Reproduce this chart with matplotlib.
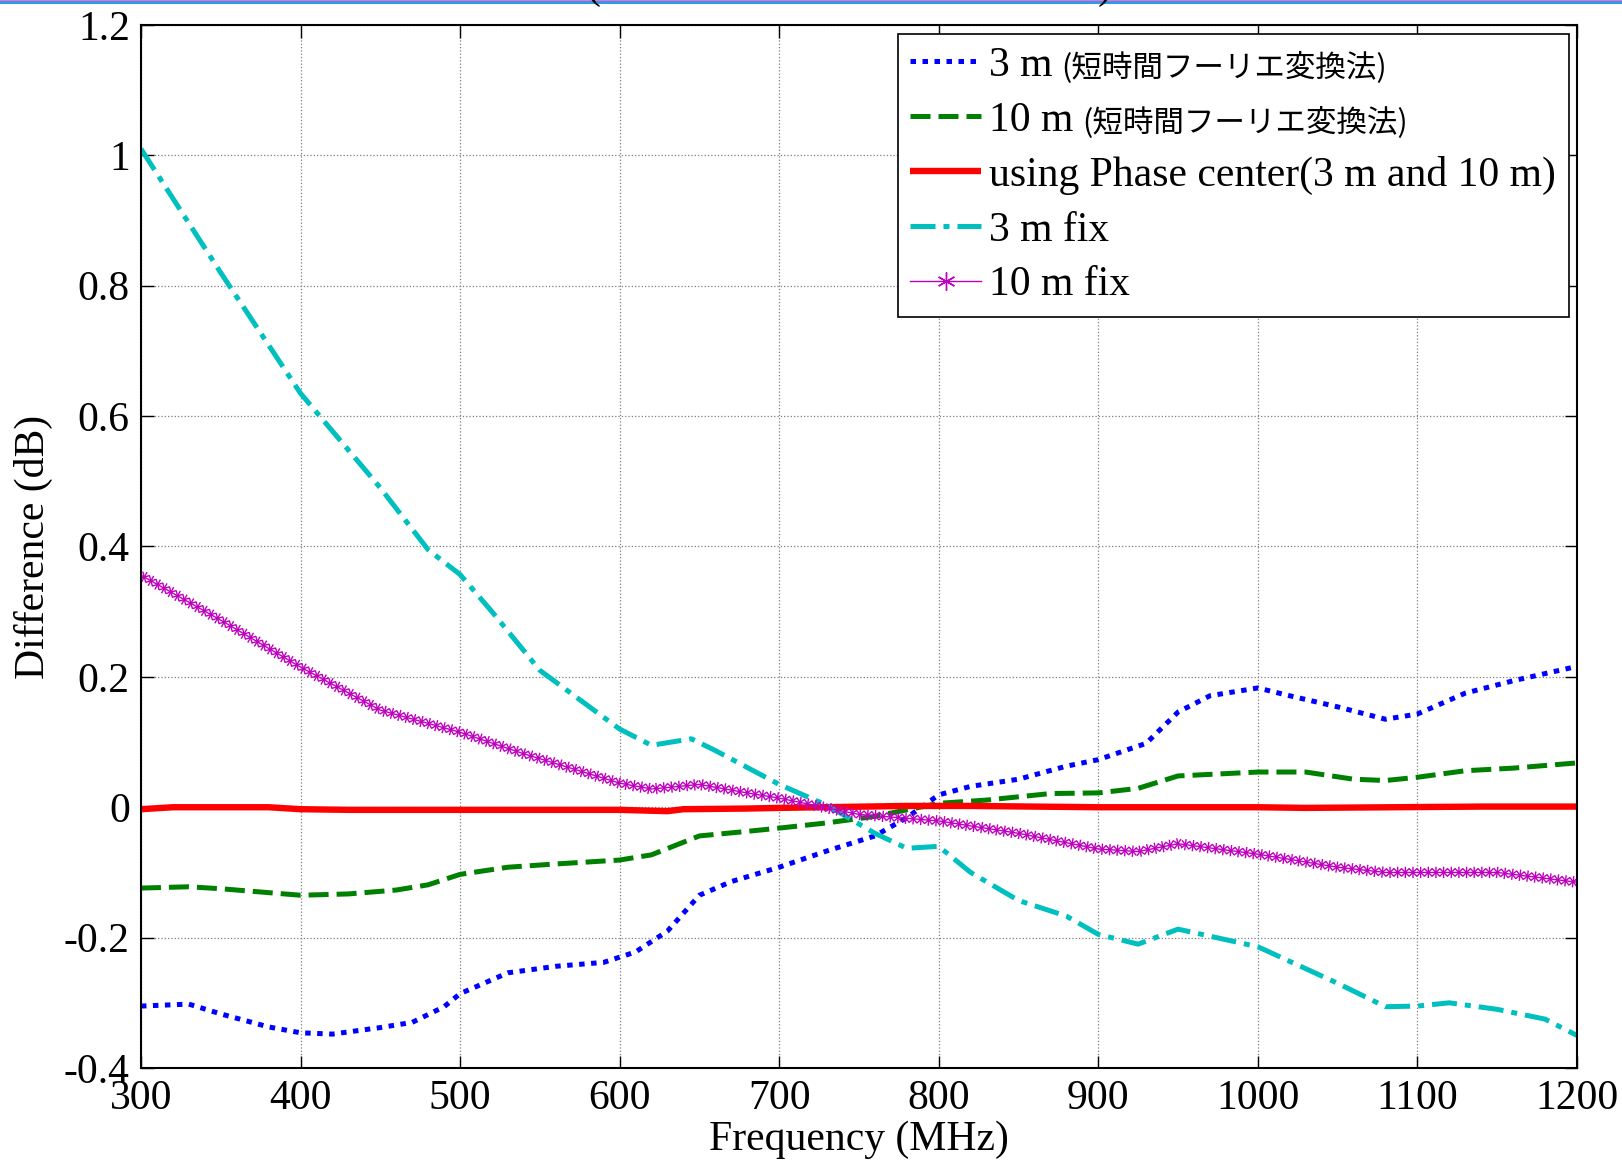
import matplotlib
matplotlib.use("Agg")
import matplotlib.pyplot as plt
import matplotlib.patheffects as pe
from matplotlib.lines import Line2D

plt.rcParams['font.family'] = ['Liberation Serif', 'Noto Sans CJK JP']
plt.rcParams['mathtext.fontset'] = 'stix'

# values
freq_3m = [300, 330, 350, 380, 400, 420, 450, 470, 490, 500, 530, 560, 590, 610, 630, 650, 670,
           700, 730, 760, 780, 800, 820, 850, 880, 900, 930, 950, 970, 1000, 1020, 1050, 1080,
           1100, 1130, 1160, 1200]
diff_3m = [-0.305, -0.302, -0.317, -0.337, -0.346, -0.348, -0.338, -0.33, -0.306, -0.286, -0.254,
           -0.244, -0.238, -0.222, -0.19, -0.135, -0.114, -0.092, -0.067, -0.044, -0.016, 0.019,
           0.032, 0.043, 0.063, 0.073, 0.098, 0.146, 0.171, 0.183, 0.171, 0.154, 0.135, 0.143,
           0.175, 0.194, 0.216]

freq_10m = [300, 330, 350, 400, 430, 460, 480, 500, 530, 560, 600, 620, 650, 680, 700, 730, 760,
            800, 830, 870, 900, 925, 950, 1000, 1030, 1060, 1080, 1100, 1130, 1160, 1200]
diff_10m = [-0.124, -0.122, -0.125, -0.135, -0.133, -0.127, -0.119, -0.103, -0.092, -0.087, -0.081,
            -0.073, -0.044, -0.037, -0.032, -0.024, -0.014, 0.006, 0.011, 0.021, 0.022, 0.029,
            0.048, 0.054, 0.054, 0.043, 0.041, 0.046, 0.056, 0.06, 0.068]

freq_pc = [300, 320, 380, 400, 430, 600, 630, 640, 680, 700, 780, 820, 900, 1000, 1030, 1140, 1200]
diff_pc = [-0.003, 0.0, 0.0, -0.003, -0.004, -0.004, -0.006, -0.003, -0.002, -0.001, 0.002, 0.002,
           0.0, 0.0, -0.001, 0.001, 0.001]

freq_3m_fix = [300, 350, 400, 450, 480, 500, 520, 550, 600, 620, 645, 660, 700, 730, 760, 780, 800,
               820, 850, 880, 900, 925, 950, 1000, 1050, 1080, 1100, 1120, 1150, 1180, 1200]
diff_3m_fix = [1.01, 0.82, 0.635, 0.49, 0.395, 0.357, 0.30, 0.21, 0.12, 0.095, 0.105, 0.087, 0.035,
               0.003, -0.04, -0.063, -0.06, -0.10, -0.143, -0.167, -0.195, -0.21, -0.187, -0.214,
               -0.27, -0.306, -0.305, -0.30, -0.31, -0.325, -0.35]

freq_10m_fix = [300, 350, 400, 450, 500, 540, 600, 620, 650, 680, 700, 750, 800, 850, 900, 925, 950,
                1000, 1050, 1080, 1100, 1150, 1200]
diff_10m_fix = [0.356, 0.287, 0.215, 0.149, 0.115, 0.082, 0.037, 0.028, 0.035, 0.022, 0.014, -0.011,
                -0.021, -0.04, -0.064, -0.068, -0.056, -0.072, -0.092, -0.10, -0.10, -0.10, -0.115]

labels = ['3 m', '10 m', 'using Phase center(3 m and 10 m)', '3 m fix', '10 m fix']
jp_note = '(短時間フーリエ変換法)'
xticks = [300, 400, 500, 600, 700, 800, 900, 1000, 1100, 1200]
yticks = [-0.4, -0.2, 0, 0.2, 0.4, 0.6, 0.8, 1.0, 1.2]
ytick_labels = ['-0.4', '-0.2', '0', '0.2', '0.4', '0.6', '0.8', '1', '1.2']

fs = 30

fig = plt.figure(figsize=(16.22, 11.62), dpi=100)
ax = fig.add_axes([0.0869, 0.0809, 0.8853, 0.8976])

l1, = ax.plot(freq_3m, diff_3m, color='#0000FF', lw=3.6, linestyle=(0, (1.1, 1.3)),
              dash_capstyle='butt')
l2, = ax.plot(freq_10m, diff_10m, color='#008000', lw=3.6, linestyle=(0, (4, 1.6)),
              dash_capstyle='butt')
l3, = ax.plot(freq_pc, diff_pc, color='#FF0000', lw=4.6, solid_capstyle='butt')
l4, = ax.plot(freq_3m_fix, diff_3m_fix, color='#00BFBF', lw=3.6,
              linestyle=(0, (5, 1.6, 1.2, 1.6)), dash_capstyle='butt')

# asterisk markers drawn along the curve with ticked strokes
star = [pe.TickedStroke(spacing=5.5, angle=a, length=0.65, linewidth=1.0)
        for a in (90, -90, 45, -135, 135, -45)]
l5, = ax.plot(freq_10m_fix, diff_10m_fix, color='#BF00BF', lw=1.0,
              path_effects=star + [pe.Normal()])

h5 = Line2D([], [], color='#BF00BF', lw=1.0, marker=(6, 2, 0), markersize=13,
            markeredgewidth=1.0)

ax.set_xlim(300, 1200)
ax.set_ylim(-0.4, 1.2)
ax.set_xticks(xticks)
ax.set_xticklabels([str(v) for v in xticks])
ax.set_yticks(yticks)
ax.set_yticklabels(ytick_labels)
ax.tick_params(direction='in', top=True, right=True, length=9, width=1.0,
               labelsize=fs, pad=8)
ax.grid(True, color='#7f7f7f', linestyle=':', linewidth=0.9)
for s in ax.spines.values():
    s.set_linewidth(1.5)

ax.set_xlabel('Frequency (MHz)', fontsize=fs, labelpad=2)
ax.set_ylabel('Difference (dB)', fontsize=fs, labelpad=8)

leg = ax.legend([l1, l2, l3, l4, h5], labels, loc='upper right',
                bbox_to_anchor=(0.9944, 0.9914), borderaxespad=0, fontsize=fs,
                fancybox=False, framealpha=1, edgecolor='black', handlelength=1.7,
                handletextpad=0.2, labelspacing=0.39, borderpad=0.3, numpoints=1)
leg.get_frame().set_linewidth(1.2)

txts = leg.get_texts()
for i in (0, 1):
    ax.annotate(jp_note, xy=(1, 0.5), xycoords=txts[i], xytext=(6, -2),
                textcoords='offset points', va='center', ha='left',
                fontsize=22, family=['Noto Sans CJK JP'], zorder=10)

# top edge of the slide the chart was cut from
fig.add_artist(Line2D([0, 1], [0.9985, 0.9985], transform=fig.transFigure,
                      color='#2E9BE8', lw=2.2))
fig.add_artist(Line2D([0, 1], [0.9998, 0.9998], transform=fig.transFigure,
                      color='#FF66CC', lw=0.8))
fig.text(593 / 1622, 1.0017, '(', fontsize=fs, va='baseline', ha='center')
fig.text(1105 / 1622, 1.0017, ')', fontsize=fs, va='baseline', ha='center')

fig.savefig('out.png', dpi=100)
